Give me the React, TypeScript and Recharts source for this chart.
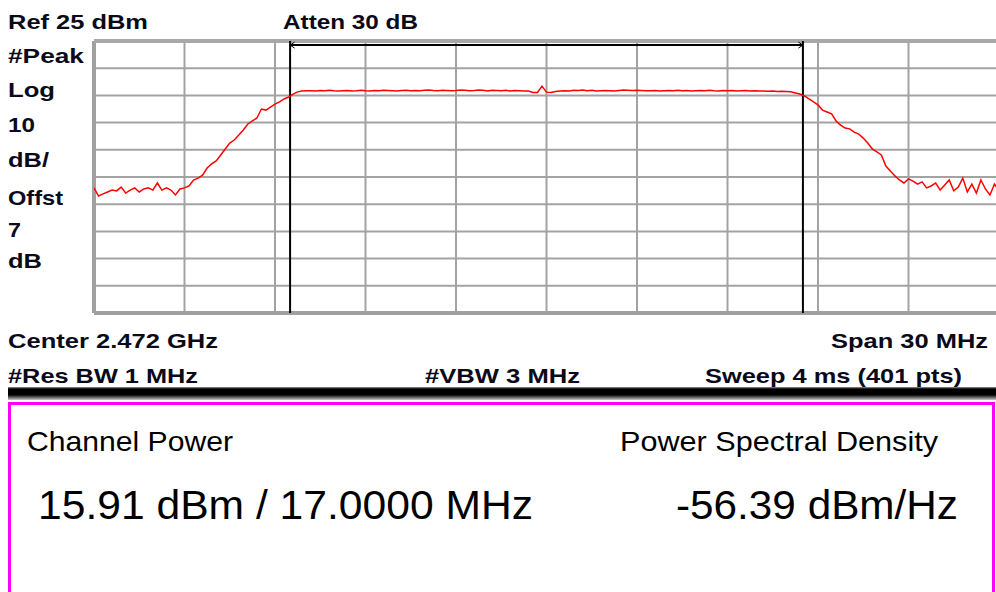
import React from 'react';
import { LineChart, Line, XAxis, YAxis, ReferenceLine } from 'recharts';

// Frequency offset from centre (MHz), span 30 MHz, 10 divisions
const xTicksMHz = [-15, -12, -9, -6, -3, 0, 3, 6, 9, 12, 15];
// Ref 25 dBm, 10 dB/div
const yTicksDbm = [-75, -65, -55, -45, -35, -25, -15, -5, 5, 15, 25];
const sweepStartMHz = -15;
const sweepStepMHz = 0.15;

// Trace (dBm), every 0.15 MHz
const leftSkirtDbm = [
  -29.0, -32.0, -31.2, -30.5, -29.8, -30.1, -28.7, -30.9, -29.8, -29.0,
  -30.5, -29.4, -29.0, -29.8, -27.2, -29.8, -29.0, -29.8, -31.6, -29.4,
  -29.0, -28.3, -26.1, -25.4, -24.3, -21.7, -20.2, -19.1, -16.9, -14.7,
  -12.5, -11.4, -9.6, -7.7, -5.5, -4.4, -3.3, 0.0, -0.4, 0.7,
  1.8, 2.6, 3.7, 4.4, 5.5, 6.3,
];
const inBandDbm = [
  6.6, 6.7, 6.7, 6.6, 6.8, 6.7, 6.9, 6.7, 6.6, 6.7,
  6.8, 6.6, 6.7, 6.9, 6.7, 6.6, 6.8, 6.7, 6.9, 6.8,
  6.7, 6.6, 6.8, 6.9, 6.7, 6.8, 6.7, 6.9, 7.0, 6.8,
  6.7, 6.9, 6.8, 6.7, 6.8, 7.0, 6.9, 6.7, 6.8, 7.0,
  6.9, 6.6, 6.9, 6.8, 6.7, 6.9, 6.6, 6.8, 6.7, 6.6,
  6.6, 6.1, 6.1, 8.4, 6.2, 6.1, 6.4, 6.6, 6.7, 6.6,
  6.9, 6.8, 7.0, 6.7, 6.9, 6.6, 6.7, 6.8, 6.7, 6.6,
  6.8, 7.0, 6.9, 6.8, 6.9, 6.8, 6.7, 6.7, 6.8, 6.6,
  6.7, 6.8, 6.7, 6.9, 6.7, 6.8, 6.6, 6.7, 6.8, 6.7,
  6.9, 6.7, 6.6, 6.8, 6.7, 6.8, 6.6, 6.7, 6.8, 6.6,
  6.7, 6.6, 6.6, 6.5, 6.6, 6.4, 6.5, 6.4,
];
const rightSkirtDbm = [
  6.3, 5.9, 5.5, 4.8, 3.7, 2.6, 1.5, -0.4, -1.1, -1.8,
  -4.4, -5.9, -7.0, -7.3, -8.5, -9.2, -10.7, -12.5, -14.7, -15.8,
  -16.9, -21.0, -22.8, -24.6, -26.1, -27.2, -25.7, -26.5, -27.6, -26.8,
  -29.0, -28.3, -27.2, -29.8, -27.9, -26.1, -30.1, -28.7, -25.4, -30.5,
  -27.6, -30.9, -26.1, -29.4, -31.6, -27.6, -30.1,
];

const channelEdgesMHz = [-8.5, 8.5];
const markerLevelDbm = 23.5;

const traceDbm = [...leftSkirtDbm, ...inBandDbm, ...rightSkirtDbm];
const data = traceDbm.map((p, i) => ({ f: sweepStartMHz + i * sweepStepMHz, p }));

const topFont = '"Liberation Sans", Arial, sans-serif';
const lowFont = '"Liberation Sans", Arial, sans-serif';

type Lbl = { t: string; x: number; y: number; w: number };
const leftLabels: Lbl[] = [
  { t: 'Ref 25 dBm', x: 8, y: 29, w: 140 },
  { t: 'Atten 30 dB', x: 283, y: 29, w: 135 },
  { t: '#Peak', x: 8, y: 63, w: 76 },
  { t: 'Log', x: 8, y: 97, w: 47 },
  { t: '10', x: 8, y: 132, w: 27 },
  { t: 'dB/', x: 8, y: 167, w: 41 },
  { t: 'Offst', x: 8, y: 205, w: 55 },
  { t: '7', x: 8, y: 237, w: 13 },
  { t: 'dB', x: 8, y: 268, w: 34 },
  { t: 'Center 2.472 GHz', x: 8, y: 348, w: 210 },
  { t: 'Span 30 MHz', x: 831, y: 348, w: 157 },
  { t: '#Res BW 1 MHz', x: 8, y: 383, w: 190 },
  { t: '#VBW 3 MHz', x: 425, y: 383, w: 155 },
  { t: 'Sweep 4 ms (401 pts)', x: 705, y: 383, w: 257 },
];

const lowLabels: (Lbl & { s: number })[] = [
  { t: 'Channel Power', x: 27, y: 451, w: 206, s: 28 },
  { t: 'Power Spectral Density', x: 620, y: 451, w: 318, s: 28 },
  { t: '15.91 dBm  / 17.0000 MHz', x: 38, y: 519, w: 495, s: 41 },
  { t: '-56.39 dBm/Hz', x: 676, y: 519, w: 282, s: 41 },
];

export default function App() {
  return (
    <div style={{ position: 'absolute', left: 0, top: 0, width: 996, height: 592, overflow: 'hidden', background: '#fff' }}>
      <div style={{ position: 'absolute', left: 0, top: 0 }}>
        <LineChart width={1000} height={330} data={data} margin={{ top: 41, left: 94, right: 1, bottom: 17 }}>
          <XAxis dataKey="f" type="number" domain={[-15, 15]} ticks={xTicksMHz} tick={false} tickLine={false} axisLine={false} height={0} allowDataOverflow />
          <YAxis type="number" domain={[-75, 25]} ticks={yTicksDbm} tick={false} tickLine={false} axisLine={false} width={0} allowDataOverflow />
          {xTicksMHz.map((x) => (
            <ReferenceLine key={'gx' + x} x={x} stroke="#a3a3a3" strokeWidth={2} />
          ))}
          {yTicksDbm.map((y) => (
            <ReferenceLine key={'gy' + y} y={y} stroke="#a3a3a3" strokeWidth={2} />
          ))}
          <ReferenceLine x={-15} stroke="#a0a0a0" strokeWidth={4} />
          <ReferenceLine y={25} stroke="#a8a8a8" strokeWidth={4} />
          <ReferenceLine y={-75} stroke="#a0a0a0" strokeWidth={4} />
          {channelEdgesMHz.map((e) => (
            <ReferenceLine key={'e' + e} x={e} stroke="#000" strokeWidth={2} />
          ))}
          <ReferenceLine segment={[{ x: channelEdgesMHz[0], y: markerLevelDbm }, { x: channelEdgesMHz[1], y: markerLevelDbm }]} stroke="#000" strokeWidth={2} />
          <ReferenceLine segment={[{ x: channelEdgesMHz[0], y: markerLevelDbm }, { x: channelEdgesMHz[0] + 0.15, y: markerLevelDbm + 1.1 }]} stroke="#000" strokeWidth={1} />
          <ReferenceLine segment={[{ x: channelEdgesMHz[0], y: markerLevelDbm }, { x: channelEdgesMHz[0] + 0.15, y: markerLevelDbm - 1.1 }]} stroke="#000" strokeWidth={1} />
          <ReferenceLine segment={[{ x: channelEdgesMHz[1], y: markerLevelDbm }, { x: channelEdgesMHz[1] - 0.15, y: markerLevelDbm + 1.1 }]} stroke="#000" strokeWidth={1} />
          <ReferenceLine segment={[{ x: channelEdgesMHz[1], y: markerLevelDbm }, { x: channelEdgesMHz[1] - 0.15, y: markerLevelDbm - 1.1 }]} stroke="#000" strokeWidth={1} />
          <Line dataKey="p" type="linear" stroke="#ff0000" strokeWidth={1.5} dot={false} activeDot={false} isAnimationActive={false} />
        </LineChart>
      </div>
      <svg width={996} height={592} style={{ position: 'absolute', left: 0, top: 0, pointerEvents: 'none' }}>
        <defs>
          <linearGradient id="bar" x1="0" y1="0" x2="0" y2="1">
            <stop offset="0" stopColor="#9a9a9a" />
            <stop offset="0.15" stopColor="#000" />
            <stop offset="0.6" stopColor="#000" />
            <stop offset="1" stopColor="#c8c8c8" />
          </linearGradient>
        </defs>
        {leftLabels.map((l) => (
          <text key={l.t} x={l.x} y={l.y} fontFamily={topFont} fontWeight="bold" fontSize={21} fill="#0a0a1a" textLength={l.w} lengthAdjust="spacingAndGlyphs">
            {l.t}
          </text>
        ))}
        <rect x={8} y={387} width={988} height={13} fill="url(#bar)" />
        <rect x={9.5} y={403.5} width={984} height={200} fill="#fff" stroke="#ff00ff" strokeWidth={3} />
        {lowLabels.map((l) => (
          <text key={l.t} x={l.x} y={l.y} fontFamily={lowFont} fontSize={l.s} fill="#000" textLength={l.w} lengthAdjust="spacingAndGlyphs">
            {l.t}
          </text>
        ))}
      </svg>
    </div>
  );
}
